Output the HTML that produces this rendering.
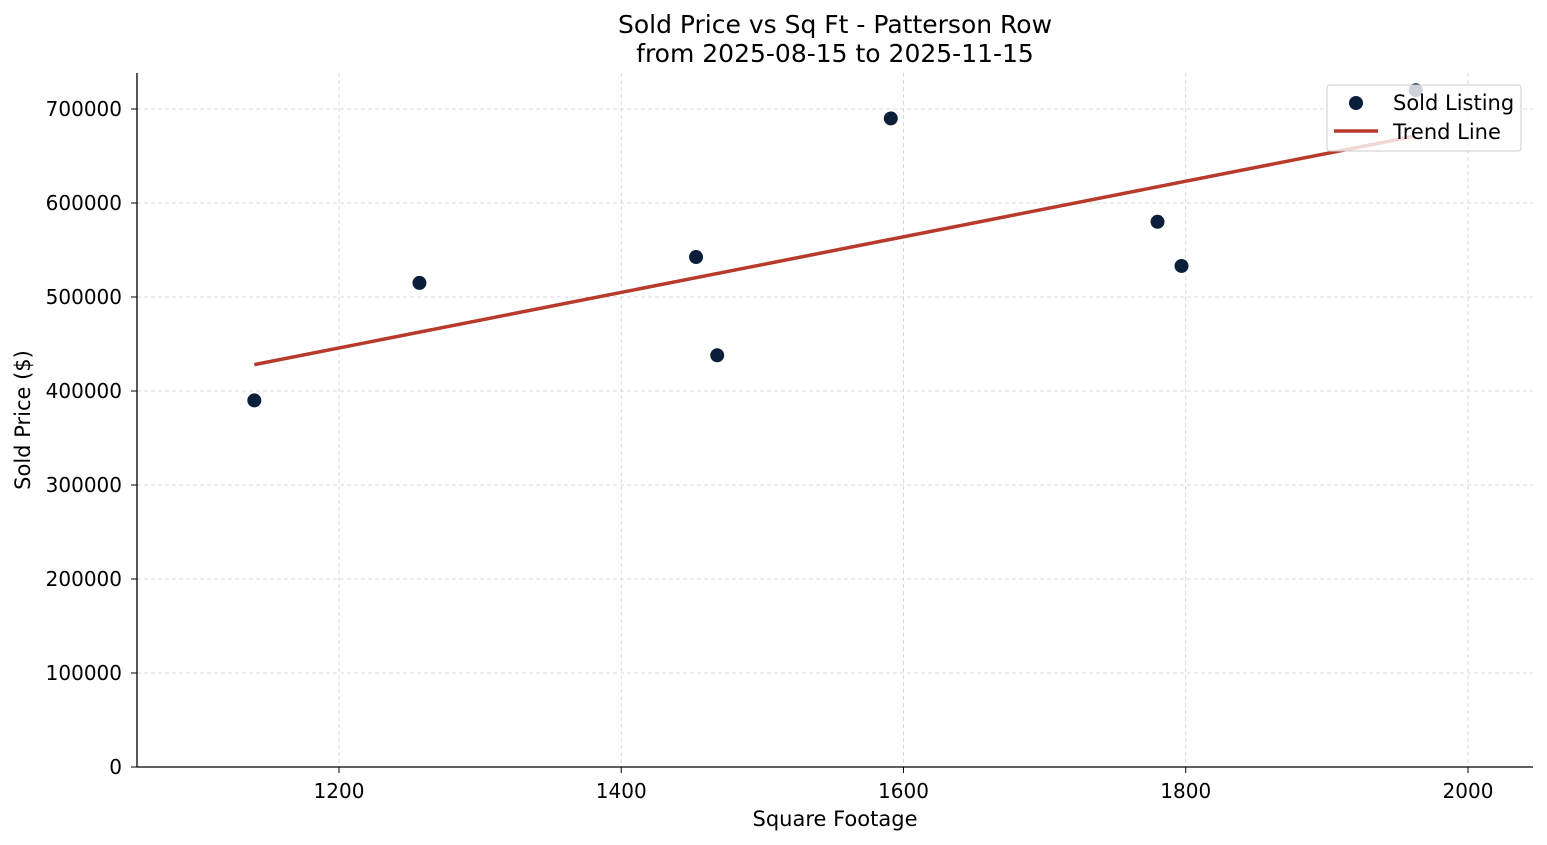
<!DOCTYPE html>
<html><head><meta charset="utf-8">
<style>
html,body{margin:0;padding:0;background:#fff;}
svg{display:block;font-family:"DejaVu Sans","Liberation Sans",sans-serif;}
</style></head>
<body>
<svg id="chart" width="1547" height="845" viewBox="0 0 1547 845">
  <text x="835" y="33" text-anchor="middle" font-size="25" fill="#000">Sold Price vs Sq Ft - Patterson Row</text>
  <text x="835" y="62" text-anchor="middle" font-size="25" fill="#000">from 2025-08-15 to 2025-11-15</text>
  <g id="grid"></g>
  <g id="axes"></g>
  <g id="marks"></g>
  <text x="835" y="826" text-anchor="middle" font-size="21">Square Footage</text>
  <text transform="translate(30,420) rotate(-90)" text-anchor="middle" font-size="21">Sold Price ($)</text>
  <g>
    <rect x="1327" y="85" width="194" height="66" rx="3" fill="rgba(255,255,255,0.8)" stroke="#ccc"/>
    <circle cx="1356" cy="103" r="7" fill="#0b1f3a"/>
    <text x="1393" y="110" font-size="21">Sold Listing</text>
    <line x1="1334" y1="131" x2="1378" y2="131" stroke="#b83a2c" stroke-width="3.5"/>
    <text x="1393" y="139" font-size="21">Trend Line</text>
  </g>
</svg>
<script>
const sqft = [1140, 1257, 1453, 1468, 1591, 1780, 1797, 1963];
const prices = [390000, 515000, 542500, 438000, 690000, 580000, 533000, 720000];
const xTicks = [1200, 1400, 1600, 1800, 2000];
const yTicks = [0, 100000, 200000, 300000, 400000, 500000, 600000, 700000];

const NS = "http://www.w3.org/2000/svg";
const L = 137, R = 1533, T = 73, B = 767;
function xs(v){ return 339 + (v - 1200) * (1468 - 339) / 800; }
function ys(v){ return 767 - v * (767 - 109) / 700000; }
function mk(tag, attrs, parent){ const e = document.createElementNS(NS, tag); for (const k in attrs) e.setAttribute(k, attrs[k]); parent.appendChild(e); return e; }
const grid = document.getElementById('grid'), axes = document.getElementById('axes'), marks = document.getElementById('marks');

xTicks.forEach(t => {
  const g = mk('line', {x1: xs(t), x2: xs(t), y1: T, y2: B, stroke: '#d0d0d0', 'stroke-dasharray': '4,3', 'stroke-width': 0.8}, grid);
  
  
  const tk = mk('line', {x1: xs(t), x2: xs(t), y1: B, y2: B + 6, stroke: '#000', 'stroke-width': 1}, axes);
  
  
  const tx = mk('text', {x: xs(t), y: B + 31, 'text-anchor': 'middle', 'font-size': 20}, axes);
  tx.textContent = t;
  
  
});
yTicks.forEach(t => {
  const g = mk('line', {x1: L, x2: R, y1: ys(t), y2: ys(t), stroke: '#d0d0d0', 'stroke-dasharray': '4,3', 'stroke-width': 0.8}, grid);
  
  
  const tk = mk('line', {x1: L - 6, x2: L, y1: ys(t), y2: ys(t), stroke: '#000', 'stroke-width': 1}, axes);
  
  
  const tx = mk('text', {x: L - 15, y: ys(t) + 7, 'text-anchor': 'end', 'font-size': 20}, axes);
  tx.textContent = t;
  
  
});
const xa = mk('line', {x1: L, x2: R, y1: B, y2: B, stroke: '#000', 'stroke-width': 1.3}, axes);


const ya = mk('line', {x1: L, x2: L, y1: T, y2: B, stroke: '#000', 'stroke-width': 1.3}, axes);



const n = sqft.length;
const mx = sqft.reduce((a, b) => a + b, 0) / n, my = prices.reduce((a, b) => a + b, 0) / n;
let sxy = 0, sxx = 0;
for (let i = 0; i < n; i++){ sxy += (sqft[i] - mx) * (prices[i] - my); sxx += (sqft[i] - mx) ** 2; }
const slope = sxy / sxx, icpt = my - slope * mx;
const x0 = Math.min(...sqft), x1 = Math.max(...sqft);

sqft.forEach((v, i) => {
  const c = mk('circle', {cx: xs(v), cy: ys(prices[i]), r: 7, fill: '#0b1f3a'}, marks);
  
  
});
const tl = mk('line', {x1: xs(x0), y1: ys(slope * x0 + icpt), x2: xs(x1), y2: ys(slope * x1 + icpt), stroke: '#b83a2c', 'stroke-width': 3.5}, marks);


</script>
</body></html>
